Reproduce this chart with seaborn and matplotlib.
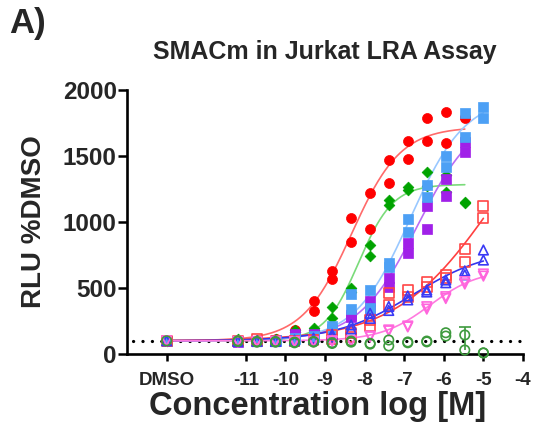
import numpy as np
import pandas as pd
import matplotlib
matplotlib.use("Agg")
import matplotlib.pyplot as plt
import seaborn as sns

# ---------------- text ----------------
title = "SMACm in Jurkat LRA Assay"
panel_label = "A)"
x_label = "Concentration log [M]"
y_label = "RLU %DMSO"
xtick_pos = [-13, -11, -10, -9, -8, -7, -6, -5, -4]
xtick_labels = ["DMSO", "-11", "-10", "-9", "-8", "-7", "-6", "-5", "-4"]
ytick_pos = [0, 500, 1000, 1500, 2000]

# ---------------- data ----------------
dmso_x = -13
dmso_value = 100
baseline_level = 100

logc = [-11.2, -10.72, -10.25, -9.77, -9.29, -8.82, -8.34, -7.86, -7.39, -6.91, -6.43, -5.95, -5.47, -5.0]

red_circles_r1 = [100, 100, 105, 182, 404, 631, 1028, 1217, 1470, 1614, 1790, 1836, 1798]
red_circles_r2 = [95, 98, 110, 170, 328, 566, 851, 944, 1298, 1480, 1614, 1601, 1790]

green_diamonds_r1 = [110, 105, 110, 182, 195, 354, 497, 826, 1167, 1268, 1381, 1356, 1149]
green_diamonds_r2 = [100, 100, 100, 170, 180, 270, 472, 742, 1129, 1242, 1273, 1230, 1141]

purple_squares_r1 = [95, 100, 105, 150, 150, 182, 295, 404, 573, 838, 1121, 1323, 1608]
purple_squares_r2 = [90, 95, 100, 135, 140, 170, 280, 333, 510, 763, 945, 1197, 1533]

blue_squares_r1 = [100, 95, 100, 120, 140, 212, 455, 485, 687, 1020, 1280, 1500, 1823, 1874]
blue_squares_r2 = [98, 100, 105, 110, 130, 190, 339, 345, 660, 927, 1192, 1419, 1646, 1785]

red_open_squares_r1 = [100, 111, 100, 100, 110, 144, 157, 258, 464, 485, 543, 598, 793, 1121]
red_open_squares_r2 = [95, 95, 95, 100, 105, 110, 130, 210, 371, 434, 510, 573, 699, 1028]

blue_triangles_r1 = [100, 100, 100, 105, 120, 150, 220, 308, 360, 440, 485, 561, 630, 788]
blue_triangles_r2 = [95, 95, 95, 100, 110, 130, 190, 270, 330, 410, 470, 540, 600, 712]

pink_triangles_r1 = [95, 95, 95, 95, 95, 100, 100, 136, 182, 212, 358, 434, 548, 606]
pink_triangles_r2 = [90, 90, 90, 90, 90, 95, 95, 130, 175, 205, 340, 420, 530, 590]

green_circles_r1 = [100, 95, 95, 90, 95, 86, 98, 81, 106, 91, 98, 161, 144, 8]
green_circles_r2 = [95, 90, 90, 85, 90, 80, 90, 75, 61, 85, 92, 136, 30, 8]

# error bar on the green open circles at the -5.47 dose
green_err_x = [-5.47]
green_err_low = [30]
green_err_high = [207]

# fitted 4PL curve parameters: bottom, top, logEC50, hill
fit_bottom = [100, 100, 100, 100, 100, 100, 100]
fit_top = [1720, 1285, 1850, 1950, 2200, 800, 640]
fit_logec50 = [-8.33, -8.15, -6.66, -6.85, -4.71, -6.78, -6.35]
fit_hill = [0.7, 1.0, 0.58, 0.62, 0.35, 0.45, 0.7]

series_names = ["red_circles", "green_diamonds", "purple_squares", "blue_squares",
                "red_open_squares", "blue_triangles", "pink_triangles", "green_circles"]
series_reps = [
    (red_circles_r1, red_circles_r2),
    (green_diamonds_r1, green_diamonds_r2),
    (purple_squares_r1, purple_squares_r2),
    (blue_squares_r1, blue_squares_r2),
    (red_open_squares_r1, red_open_squares_r2),
    (blue_triangles_r1, blue_triangles_r2),
    (pink_triangles_r1, pink_triangles_r2),
    (green_circles_r1, green_circles_r2),
]

# ---------------- styles ----------------
marker_colors = ["#FF0000", "#00A300", "#A020E8", "#4DA0F5", "#FF4545", "#3A3AF5", "#FF66DD", "#3D9A3D"]
line_colors = ["#FF6A6A", "#7ADB7A", "#BB6BF5", "#99C8FF", "#FF4040", "#3535EE", "#FF7ADF"]
markers = ["o", "D", "s", "s", "s", "^", "v", "o"]
marker_sizes = [52, 30, 46, 46, 50, 48, 48, 46]
filled = [True, True, True, True, False, False, False, False]

# ---------------- build long table ----------------
rows = []
for name, (r1, r2) in zip(series_names, series_reps):
    xs = logc[:len(r1)]
    rows.append({"series": name, "logc": dmso_x, "rlu": dmso_value})
    for x, a, b in zip(xs, r1, r2):
        rows.append({"series": name, "logc": x, "rlu": a})
        rows.append({"series": name, "logc": x, "rlu": b})
df = pd.DataFrame(rows)

sns.set_style("ticks")
plt.rcParams["font.family"] = ["Liberation Sans", "DejaVu Sans"]
plt.rcParams["font.weight"] = "bold"

fig = plt.figure(figsize=(5.33, 4.37), dpi=100)
ax = fig.add_axes([127 / 533, 1 - 354 / 437, 396 / 533, 264 / 437])

# baseline dotted line
ax.axhline(baseline_level, xmin=0.015, xmax=1.0, color="black", lw=2.3,
           linestyle=(0, (0.05, 2.9)), dash_capstyle="round", solid_capstyle="round", zorder=1)

# fitted curves
for i, name in enumerate(series_names[:7]):
    xmax = logc[len(series_reps[i][0]) - 1]
    xf = np.linspace(dmso_x, xmax, 300)
    yf = fit_bottom[i] + (fit_top[i] - fit_bottom[i]) / (1 + 10 ** ((fit_logec50[i] - xf) * fit_hill[i]))
    sns.lineplot(x=xf, y=yf, color=line_colors[i], lw=1.2, ax=ax, zorder=2)

# error bar
ax.vlines(green_err_x, green_err_low, green_err_high, color=marker_colors[7], lw=1.2, zorder=3)
ax.hlines(green_err_high, [x - 0.15 for x in green_err_x], [x + 0.15 for x in green_err_x],
          color=marker_colors[7], lw=1.2, zorder=3)

# points
for i, name in enumerate(series_names):
    sub = df[df["series"] == name]
    if filled[i]:
        sns.scatterplot(data=sub, x="logc", y="rlu", marker=markers[i], s=marker_sizes[i],
                        color=marker_colors[i], edgecolor=marker_colors[i], linewidth=0.5,
                        ax=ax, clip_on=False, zorder=4 + i, legend=False)
    else:
        sns.scatterplot(data=sub, x="logc", y="rlu", marker=markers[i], s=marker_sizes[i],
                        color=marker_colors[i], facecolor="none", edgecolor=marker_colors[i],
                        linewidth=1.2, ax=ax, clip_on=False, zorder=4 + i, legend=False)

ax.set_xlim(-14, -4)
ax.set_ylim(0, 2000)
ax.set_xticks(xtick_pos)
ax.set_xticklabels(xtick_labels)
ax.set_yticks(ytick_pos)
ax.set_yticklabels([str(v) for v in ytick_pos])
for lab in ax.get_xticklabels():
    lab.set_fontsize(13.5)
    lab.set_fontweight("bold")
for lab in ax.get_yticklabels():
    lab.set_fontsize(17.5)
    lab.set_fontweight("bold")

sns.despine(ax=ax)
for sp in ["left", "bottom"]:
    ax.spines[sp].set_linewidth(1.9)
    ax.spines[sp].set_color("black")
ax.tick_params(axis="y", length=6.3, width=1.8, pad=1, color="black")
ax.tick_params(axis="x", length=5, width=1.8, pad=8, color="black")

ax.set_xlabel(x_label, fontsize=23.5, fontweight="bold", va="center")
ax.xaxis.set_label_coords(0.481, -0.20)
ax.set_ylabel(y_label, fontsize=20, fontweight="bold", va="center")
ax.yaxis.set_label_coords(-0.235, 0.5)
ax.set_title(title, fontsize=18, fontweight="bold", y=1.144, va="center", pad=0)

fig.text(9 / 533, 1 - 24 / 437, panel_label, fontsize=25, fontweight="bold", ha="left", va="center")

fig.savefig("out.png", dpi=100)
